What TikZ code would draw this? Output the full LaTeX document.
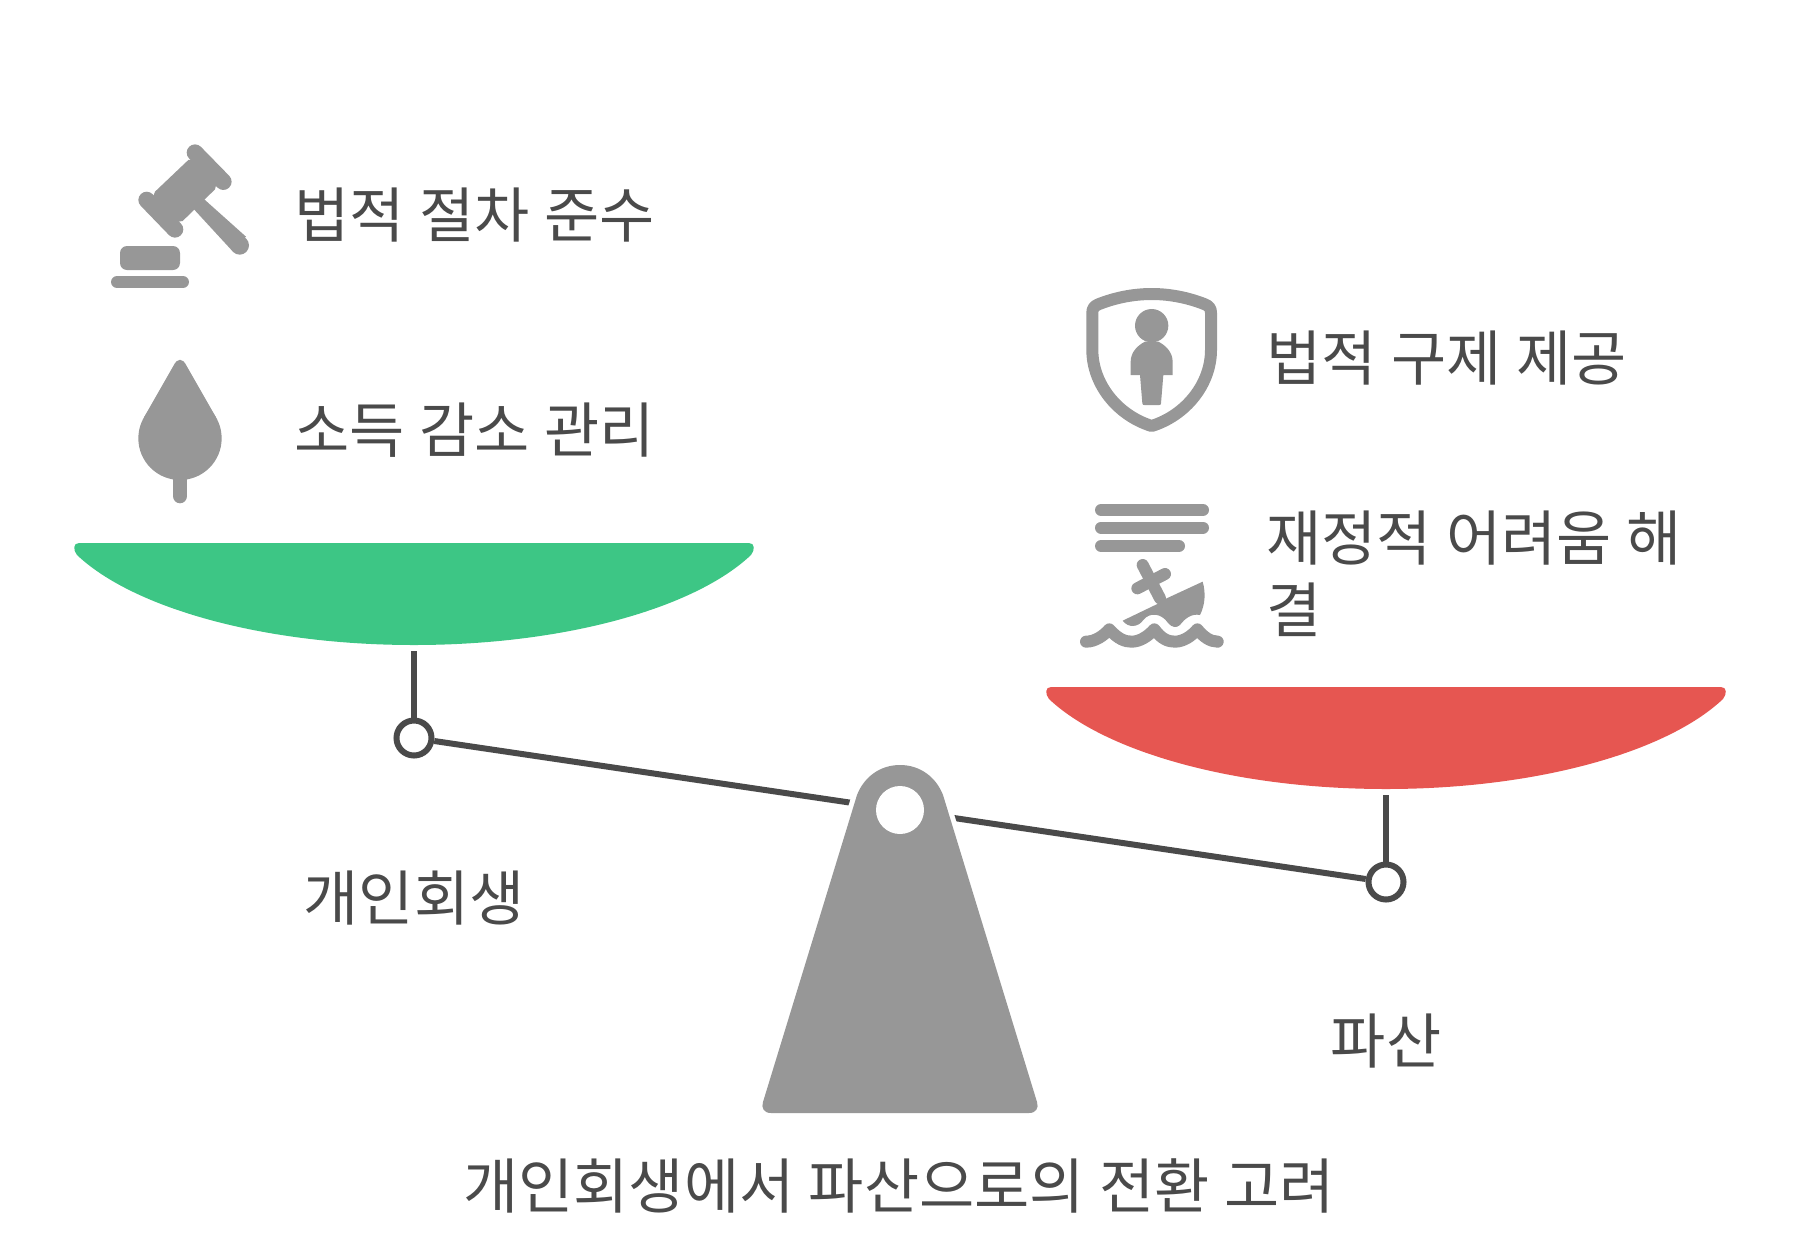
\documentclass[tikz,border=0pt]{standalone}
\usepackage{fontspec}
\setmainfont[WordSpace=1.08]{Noto Sans CJK KR}
\usetikzlibrary{positioning,calc}
\definecolor{ink}{HTML}{4a4a4a}
\definecolor{stone}{HTML}{979797}
\definecolor{leaf}{HTML}{3dc685}
\definecolor{rose}{HTML}{e65651}
\newcommand{\fulcrumpath}{(771,1113) .. controls (764,1113) and (761,1108) .. (763,1102)
    -- (857,795) .. controls (864,777) and (880,765) .. (900,765)
    .. controls (920,765) and (936,777) .. (943,795)
    -- (1037,1102) .. controls (1039,1108) and (1036,1113) .. (1029,1113) -- cycle}

\begin{document}
\begin{tikzpicture}[x=0.5pt,y=-0.5pt,
   t/.style={font=\fontsize{30}{36}\selectfont,text=ink,inner sep=0pt},
   l/.style={t,anchor=west,align=left},
   hinge/.style={circle,draw=ink,fill=white,line width=3pt,minimum size=17.5pt,inner sep=0pt},
   rod/.style={draw=ink,line width=3pt},
   bar/.style={draw=stone,line width=6pt,line cap=round},
   flange/.style={draw=stone,line width=8.3pt,line cap=round}]
  \useasboundingbox (0,0) rectangle (1800,1259);

  % pans
  \foreach \x/\y/\c/\n in {75/543/leaf/lp,1047/687/rose/rp}{
    \fill[\c] (\x+4,\y) -- (\x+674,\y) .. controls (\x+680,\y) and (\x+680,\y+7) .. (\x+676,\y+12)
      .. controls (\x+620,\y+65) and (\x+490,\y+102) .. (\x+339,\y+102)
      .. controls (\x+188,\y+102) and (\x+58,\y+65) .. (\x+2,\y+12)
      .. controls (\x-2,\y+7) and (\x-2,\y) .. (\x+4,\y) -- cycle;
    \coordinate (\n) at (\x+339,\y+108);
  }

  \node[hinge] (lh) at (414,738) {};
  \node[hinge] (rh) at (1386,882) {};
  \draw[rod] (lp) -- (lh);
  \draw[rod] (rp) -- (rh);
  \draw[rod] (lh) -- (rh);

  % fulcrum
  \draw[white,line width=5pt] \fulcrumpath;
  \fill[stone] \fulcrumpath;
  \fill[white] (900,810) circle (24);

  % gavel
  \begin{scope}[shift={(90,120)},scale=1/3]
    \fill[stone] (325,220) -- (345,240) -- (468,350) -- (428,394) -- (312,268) -- (290,250) -- cycle;
    \fill[stone] (449,376) circle (28);
    \fill[stone] (195,215) -- (295,120) -- (330,115) -- (385,170) -- (375,208) -- (278,303)
      -- (235,310) -- (180,255) -- cycle;
    \draw[flange] (315,98) -- (400,185);
    \draw[flange] (170,240) -- (255,328);
    \fill[stone,rounded corners=3.5pt] (90,378) rectangle (270,450);
    \draw[bar] (81,486) -- (279,486);
  \end{scope}

  % leaf
  \begin{scope}[shift={(90,120)},scale=1/3]
    \fill[stone] (270,955) circle (125);
    \fill[stone] (162,892) -- (250,738) .. controls (262,713) and (278,713) .. (290,738) -- (378,892) -- cycle;
    \draw[stone,line width=7.3pt,line cap=round] (270,1060) -- (270,1128);
  \end{scope}

  % shield
  \begin{scope}[shift={(1060,270)},scale=1/3]
    \draw[stone,line width=6pt,line join=round] (275,72) .. controls (215,72) and (160,85) .. (115,103)
      .. controls (103,108) and (97,115) .. (97,128) -- (97,240)
      .. controls (97,340) and (170,435) .. (275,468)
      .. controls (380,435) and (453,340) .. (453,240) -- (453,128)
      .. controls (453,115) and (447,108) .. (435,103)
      .. controls (390,85) and (335,72) .. (275,72) -- cycle;
    \fill[stone] (275,167) circle (50);
    \fill[stone] (212,315) -- (212,275) .. controls (212,245) and (235,225) .. (255,215)
      -- (295,215) .. controls (315,225) and (338,245) .. (338,275) -- (338,315)
      -- (310,315) -- (303,400) .. controls (303,405) and (300,405) .. (298,405)
      -- (253,405) .. controls (250,405) and (248,405) .. (247,400) -- (240,315) -- cycle;
  \end{scope}

  % lines and boat
  \begin{scope}[shift={(1060,270)},scale=1/3]
    \draw[bar] (123,720) -- (429,720);
    \draw[bar] (123,773) -- (429,773);
    \draw[bar] (123,828) -- (357,828);
    \draw[bar] (248,885) -- (300,985);
    \draw[bar] (232,955) -- (315,912);
    \fill[stone] (320,985) -- (428,935) .. controls (438,970) and (435,1005) .. (420,1035)
      .. controls (395,1030) and (375,1045) .. (360,1065) .. controls (350,1075) and (335,1072) .. (325,1060)
      .. controls (305,1030) and (270,1025) .. (250,1050)
      .. controls (235,1072) and (205,1075) .. (188,1052) -- (290,1003) -- cycle;
    \draw[bar,line join=round] (78,1115) .. controls (105,1115) and (130,1098) .. (148,1078)
      .. controls (175,1108) and (195,1115) .. (215,1115) .. controls (240,1115) and (265,1098) .. (283,1078)
      .. controls (305,1108) and (325,1115) .. (345,1115) .. controls (370,1115) and (395,1098) .. (412,1078)
      .. controls (430,1100) and (450,1115) .. (473,1115);
  \end{scope}

  \node[l] (a) at (294,215) {법적 절차 준수};
  \node[l] (b) at (294,430) {소득 감소 관리};
  \node[l] (c) at (1266,358) {법적 구제 제공};
  \node[l] (d) at (1266,574) {재정적 어려움 해\\결};
  \node[t] (e) at (414,898) {개인회생};
  \node[t] (f) at (1386,1041) {파산};
  \node[t] (g) at (899,1186) {개인회생에서 파산으로의 전환 고려};
\end{tikzpicture}
\end{document}
